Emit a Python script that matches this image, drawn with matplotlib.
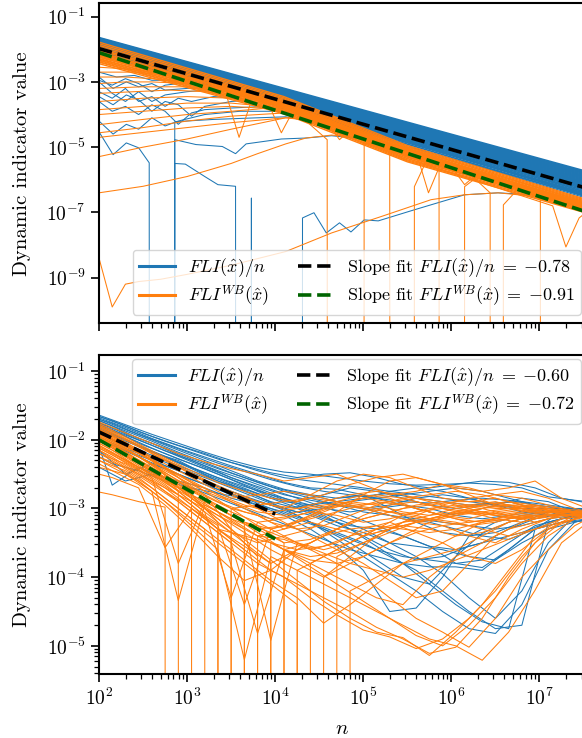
import numpy as np
import matplotlib.pyplot as plt
from matplotlib.lines import Line2D
from matplotlib.ticker import NullLocator

plt.rcParams['font.family'] = 'serif'
plt.rcParams['font.serif'] = ['cmr10']
plt.rcParams['mathtext.fontset'] = 'cm'
plt.rcParams['axes.formatter.use_mathtext'] = True

# ---------------- data (log10 values) ----------------
# top panel: regular orbits, straight bands from n=1e2 to n=2^25
top_band_n = [2.0, 7.53]
top_blue_band_start = [-1.64, -1.66, -1.68, -1.70, -1.72, -1.74, -1.76, -1.78, -1.80, -1.82, -1.84, -1.86,
                       -1.88, -1.90, -1.92, -1.94, -1.96, -1.98, -2.00, -2.02, -2.04, -2.07, -2.10, -2.13]
top_blue_band_end = [-5.74, -5.77, -5.80, -5.83, -5.86, -5.89, -5.92, -5.95, -5.98, -6.01, -6.04, -6.07,
                     -6.10, -6.13, -6.16, -6.19, -6.22, -6.26, -6.30, -6.34, -6.38, -6.42, -6.47, -6.52]

top_orange_band_n = [2.0, 4.1, 5.5, 7.53]
top_orange_band_0 = [-1.78, -1.83, -1.88, -1.93, -1.98, -2.03, -2.08, -2.13, -2.18, -2.23, -2.28, -2.33, -2.38, -2.44]
top_orange_band_1 = [-3.45, -3.49, -3.53, -3.57, -3.61, -3.65, -3.69, -3.73, -3.77, -3.81, -3.85, -3.89, -3.93, -3.98]
top_orange_band_2 = [-4.95, -4.99, -5.03, -5.07, -5.11, -5.15, -5.19, -5.23, -5.27, -5.31, -5.35, -5.39, -5.42, -5.45]
top_orange_band_3 = [-6.60, -6.63, -6.66, -6.69, -6.72, -6.75, -6.78, -6.81, -6.84, -6.87, -6.90, -6.94, -6.98, -7.02]

# top panel: individual traces as (log10 n, log10 value), None = value 0
top_blue_lines = [
    [(2.0, -4.53), (2.16, -5.23), (2.31, -4.87), (2.45, -5.02), (2.57, -5.48), (2.71, None), (2.86, -4.22),
     (3.3, -4.15), (3.8, -4.1), (4.12, -4.07), (4.6, -4.3), (5.0, -4.55), (6.0, -5.35), (7.53, -6.56)],
    [(2.71, None), (2.86, -4.77), (3.1, -4.92), (3.4, -4.98), (3.55, -5.2), (3.67, -4.9), (4.07, -4.75),
     (4.35, -4.72), (4.64, -4.65), (4.9, -4.72), (5.2, -4.85), (5.6, -5.05), (6.0, -5.35), (7.53, -6.5)],
    [(2.71, None), (2.86, -5.5), (2.98, -5.52), (3.2, -5.9), (3.35, -6.15), (3.55, -6.2), (3.65, None)],
    [(3.58, None), (3.73, -6.56), (3.88, None)],
    [(4.16, None), (4.31, -7.17), (4.44, -7.01), (4.58, -7.63), (4.73, -7.32), (4.86, -7.6), (5.01, -7.23),
     (5.17, -7.26), (5.58, -6.92), (6.15, -6.46), (6.53, -6.4), (6.91, -6.46), (7.28, -6.7), (7.53, -6.85)],
    [(2.0, -2.95), (2.15, -3.1), (2.3, -2.9), (2.45, -3.05), (2.6, -3.3), (2.75, -3.1), (2.9, -3.05),
     (3.2, -3.0), (3.5, -3.0), (3.8, -3.1), (4.1, -3.3), (4.5, -3.6), (7.53, -6.2)],
    [(2.0, -3.3), (2.15, -3.5), (2.3, -3.2), (2.45, -3.6), (2.6, -3.45), (2.75, -3.75), (2.9, -3.5),
     (3.05, -3.6), (3.3, -3.45), (3.6, -3.5), (4.0, -3.6), (4.5, -3.9), (5.0, -4.4), (7.53, -6.45)],
    [(2.0, -3.6), (2.15, -3.9), (2.3, -3.75), (2.45, -4.0), (2.6, -3.7), (2.75, -3.9), (2.9, -4.3),
     (3.05, -3.95), (3.2, -3.85), (3.5, -3.8), (3.9, -3.75), (4.3, -3.9), (4.8, -4.25), (7.53, -6.5)],
    [(2.0, -3.0), (2.15, -3.35), (2.3, -3.6), (2.45, -3.3), (2.6, -3.6), (2.75, -3.4), (3.0, -3.3),
     (3.4, -3.2), (3.8, -3.3), (4.3, -3.55), (7.53, -6.3)],
    [(2.0, -2.7), (2.2, -2.85), (2.4, -2.8), (2.6, -2.95), (2.9, -2.95), (3.3, -3.0), (3.7, -3.15), (7.53, -6.1)],
    [(2.0, -4.2), (2.16, -4.6), (2.31, -4.3), (2.45, -4.45), (2.6, -4.1), (2.75, -4.35), (2.9, -4.2),
     (3.2, -4.0), (3.6, -3.9), (4.1, -3.9), (4.6, -4.1), (5.2, -4.6), (7.53, -6.45)],
    [(2.0, -3.45), (2.16, -3.7), (2.31, -3.4), (2.45, -3.55), (2.6, -3.9), (2.75, -3.6), (2.9, -3.7),
     (3.05, -4.05), (3.2, -3.75), (3.5, -3.6), (4.0, -3.5), (4.6, -3.8), (7.53, -6.4)],
    [(2.0, -2.85), (2.16, -3.2), (2.31, -3.0), (2.45, -3.15), (2.6, -3.05), (2.75, -3.25), (3.0, -3.2),
     (3.5, -3.15), (4.0, -3.3), (7.53, -6.25)],
]

top_orange_lines = [
    [(2.0, -2.55), (2.3, -2.6), (2.6, -2.7), (2.9, -2.8), (3.2, -2.95), (3.6, -3.25), (4.1, -3.7), (5.5, -5.2), (7.53, -6.85)],
    [(2.0, -2.85), (2.3, -2.85), (2.6, -2.9), (2.9, -3.0), (3.3, -3.15), (3.7, -3.4), (4.1, -3.75), (5.5, -5.25), (7.53, -6.9)],
    [(2.0, -3.05), (2.3, -3.0), (2.6, -3.0), (3.0, -3.05), (3.4, -3.2), (3.8, -3.45), (4.1, -3.65), (5.5, -5.1), (7.53, -6.75)],
    [(2.0, -3.35), (2.4, -3.3), (2.8, -3.25), (3.2, -3.3), (3.6, -3.45), (4.1, -3.7), (5.5, -5.15), (7.53, -6.8)],
    [(2.0, -3.6), (2.5, -3.5), (3.0, -3.45), (3.5, -3.5), (4.1, -3.75), (5.5, -5.2), (7.53, -6.85)],
    [(2.0, -3.85), (2.5, -3.75), (3.0, -3.65), (3.5, -3.65), (4.12, -3.8), (4.6, -4.1), (5.5, -5.0), (7.53, -6.7)],
    [(2.0, -4.31), (2.5, -4.15), (3.0, -4.0), (3.5, -3.9), (4.12, -3.76), (4.6, -4.0), (5.0, -4.5), (5.5, -5.05), (7.53, -6.8)],
    [(2.0, -4.56), (2.5, -4.4), (3.0, -4.2), (3.5, -4.05), (4.12, -3.95), (4.6, -4.15), (5.0, -4.6), (5.5, -5.1), (7.53, -6.78)],
    [(2.0, -5.29), (2.5, -5.0), (3.0, -4.75), (3.5, -4.45), (4.12, -4.1), (4.5, -4.15), (5.0, -4.55), (5.5, -5.15), (7.53, -6.82)],
    [(2.0, -6.4), (2.5, -6.2), (3.0, -5.9), (3.5, -5.5), (3.8, -5.2), (4.12, -4.9), (4.35, -4.72), (4.64, -4.63),
     (4.9, -4.68), (5.1, -4.78), (5.4, -4.98), (5.6, -5.12), (6.2, -5.65), (7.53, -6.8)],
    [(2.0, -8.4), (2.15, -9.9), (2.3, -9.2), (2.45, -9.12), (2.7, -9.05), (3.0, -8.9), (3.5, -8.62), (4.12, -8.2),
     (4.64, -7.63), (5.2, -7.13), (5.77, -6.61), (6.15, -6.46), (6.53, -6.4), (6.91, -6.5), (7.28, -6.8), (7.53, -6.98)],
    [(2.0, -2.7), (2.4, -2.7), (2.8, -2.8), (3.2, -3.0), (3.7, -3.35), (4.1, -3.68), (5.5, -5.15), (7.53, -6.8)],
    [(2.0, -3.2), (2.5, -3.15), (3.0, -3.15), (3.5, -3.3), (4.1, -3.72), (5.5, -5.2), (7.53, -6.85)],
    [(2.0, -4.0), (2.5, -3.9), (3.0, -3.8), (3.5, -3.75), (4.12, -3.85), (4.6, -4.15), (5.5, -5.1), (7.53, -6.75)],
    [(2.0, -4.7), (2.5, -4.55), (3.0, -4.4), (3.5, -4.25), (4.12, -4.1), (4.6, -4.25), (5.2, -4.8), (7.53, -6.8)],
    [(2.0, -2.3), (3.0, -3.0), (3.44, -3.35), (3.59, -4.7), (3.74, -3.5), (4.1, -3.8), (5.5, -5.3), (7.53, -6.95)],
    [(2.0, -2.2), (3.5, -3.3), (3.92, -3.65), (4.07, -4.56), (4.22, -3.8), (5.5, -5.2), (7.53, -6.9)],
    [(2.0, -2.15), (4.1, -3.65), (4.58, -4.2), (4.73, -4.77), (4.88, -4.4), (5.5, -5.2), (7.53, -6.85)],
    [(2.0, -2.0), (4.1, -3.6), (4.59, -4.77), (4.8, None), (5.01, -4.86), (5.5, -5.25), (7.53, -6.9)],
    [(2.0, -2.1), (4.1, -3.7), (5.0, -4.6), (5.3, -5.08), (5.44, None), (5.58, -6.21), (5.72, -5.4), (6.0, -5.6), (7.53, -6.85)],
    [(2.0, -2.2), (4.1, -3.8), (5.5, -5.2), (5.86, -5.69), (6.0, None), (6.15, -6.21), (6.3, -5.9), (7.53, -6.9)],
    [(2.0, -2.3), (4.1, -3.85), (5.5, -5.25), (6.2, -5.8), (6.44, -6.4), (6.52, None), (6.59, -6.77), (6.75, -6.3), (7.53, -6.95)],
    [(2.0, -2.35), (4.1, -3.9), (5.5, -5.3), (6.8, -6.3), (7.01, -6.46), (7.1, None)],
    [(2.0, -2.4), (4.1, -3.95), (5.5, -5.35), (7.15, -6.8), (7.3, -8.06), (7.45, -7.17), (7.53, -7.0)],
    [(2.0, -2.25), (4.1, -3.75), (5.2, -4.9), (5.47, -5.39), (5.6, -5.15), (5.74, -6.4), (5.85, -5.69),
     (6.0, -5.6), (6.15, -6.15), (6.3, -5.8), (7.53, -6.9)],
]

# slope fits (endpoints)
top_fit_n = [1e2, 3.36e7]
top_fit_fli = [1.05e-2, 5.6e-7]
top_fit_wb = [7.9e-3, 1.05e-7]
bot_fit_n = [1e2, 1e4]
bot_fit_fli = [1.3e-2, 8.3e-4]
bot_fit_wb = [1.0e-2, 3.6e-4]

# bottom panel: traces on two sampling grids (log10 n), None = value 0
bot_grid_a = [2.0, 2.3, 2.6, 2.9, 3.2, 3.5, 3.8, 4.1, 4.4, 4.7, 5.0, 5.3, 5.6, 5.9, 6.2, 6.5, 6.8, 7.1, 7.4, 7.55]
bot_grid_b = [2.0, 2.15, 2.45, 2.75, 3.05, 3.35, 3.65, 3.95, 4.25, 4.55, 4.85, 5.15, 5.45, 5.75, 6.05, 6.35, 6.65, 6.95, 7.25, 7.55]

bot_blue_a = [
    [-1.64, -1.78, -1.92, -2.05, -2.18, -2.3, -2.4, -2.47, -2.5, -2.55, -2.6, -2.64, -2.66, -2.65, -2.63, -2.65, -2.7, -2.83, -2.88, -2.9],
    [-1.7, -1.85, -2.0, -2.15, -2.3, -2.45, -2.6, -2.72, -2.8, -2.85, -2.82, -2.78, -2.85, -2.9, -2.95, -2.92, -2.9, -2.95, -3.0, -3.05],
    [-1.75, -1.9, -2.05, -2.22, -2.38, -2.55, -2.7, -2.85, -3.0, -3.15, -3.3, -3.5, -3.7, -3.95, -4.3, -4.6, -4.2, -3.5, -3.1, -3.05],
    [-1.8, -1.95, -2.12, -2.28, -2.42, -2.58, -2.75, -2.9, -2.95, -2.9, -2.85, -2.75, -2.7, -2.75, -2.85, -2.95, -3.0, -3.1, -3.1, -3.1],
    [-1.85, -2.0, -2.18, -2.3, -2.5, -2.65, -2.82, -3.0, -3.2, -3.45, -3.7, -3.95, -4.2, -4.5, -4.75, -4.82, -4.4, -3.6, -3.2, -3.15],
    [-1.9, -2.1, -2.25, -2.4, -2.55, -2.7, -2.85, -3.0, -3.1, -3.25, -3.35, -3.5, -3.55, -3.6, -3.7, -3.75, -3.5, -3.3, -3.2, -3.15],
    [-2.0, -2.15, -2.3, -2.45, -2.6, -2.75, -2.9, -3.0, -2.95, -2.85, -2.8, -2.9, -3.0, -3.1, -3.05, -2.95, -2.85, -2.9, -3.05, -3.1],
    [-2.15, -2.5, -2.35, -2.5, -2.65, -2.8, -2.95, -3.1, -3.3, -3.55, -3.9, -4.5, -4.45, -4.0, -3.4, -3.2, -3.1, -3.05, -3.05, -3.1],
    [-1.68, -1.82, -1.98, -2.12, -2.25, -2.38, -2.5, -2.62, -2.7, -2.72, -2.8, -3.0, -3.2, -3.35, -3.4, -3.35, -3.2, -3.05, -3.0, -3.0],
    [-2.4, -2.6, -2.5, -2.6, -2.7, -2.85, -2.95, -3.05, -3.2, -3.35, -3.5, -3.7, -3.9, -4.2, -4.5, -4.75, -4.7, -3.2, -3.1, -3.1],
    [-1.66, -1.8, -1.95, -2.08, -2.2, -2.33, -2.45, -2.55, -2.6, -2.65, -2.7, -2.75, -2.8, -2.85, -2.9, -2.95, -3.0, -3.0, -3.0, -3.02],
    [-1.72, -1.87, -2.02, -2.18, -2.33, -2.48, -2.62, -2.75, -2.85, -2.95, -3.05, -3.1, -3.15, -3.2, -3.25, -3.3, -3.25, -3.15, -3.1, -3.08],
    [-1.78, -1.93, -2.08, -2.24, -2.4, -2.55, -2.68, -2.8, -2.88, -2.95, -3.0, -2.95, -2.85, -2.8, -2.85, -2.95, -3.05, -3.1, -3.05, -3.05],
    [-1.86, -2.02, -2.17, -2.33, -2.48, -2.63, -2.78, -2.92, -3.05, -3.2, -3.4, -3.6, -3.75, -3.7, -3.55, -3.45, -3.35, -3.2, -3.1, -3.1],
]
bot_blue_b = [
    [-1.66, -1.72, -1.88, -2.02, -2.15, -2.28, -2.38, -2.48, -2.55, -2.5, -2.48, -2.55, -2.65, -2.7, -2.65, -2.6, -2.62, -2.7, -2.85, -2.92],
    [-1.72, -1.8, -1.98, -2.12, -2.28, -2.42, -2.55, -2.68, -2.78, -2.85, -2.95, -3.05, -3.15, -3.2, -3.3, -3.4, -3.45, -3.3, -3.15, -3.1],
    [-1.78, -1.85, -2.05, -2.2, -2.35, -2.5, -2.65, -2.8, -2.95, -3.1, -3.3, -3.55, -3.8, -4.1, -4.4, -4.65, -4.75, -3.3, -3.05, -3.0],
    [-1.82, -1.9, -2.1, -2.25, -2.42, -2.6, -2.72, -2.85, -2.9, -2.8, -2.7, -2.75, -2.85, -2.95, -3.0, -2.95, -2.9, -3.0, -3.1, -3.1],
    [-1.95, -2.05, -2.2, -2.38, -2.52, -2.68, -2.82, -2.95, -3.1, -3.3, -3.5, -3.75, -4.0, -4.1, -3.7, -3.36, -3.2, -3.1, -3.1, -3.12],
    [-2.1, -2.66, -2.4, -2.55, -2.7, -2.85, -3.0, -3.15, -3.3, -3.45, -3.6, -3.7, -3.8, -3.85, -3.85, -3.9, -3.6, -3.3, -3.2, -3.18],
    [-2.25, -2.35, -2.45, -2.6, -2.7, -2.78, -2.85, -2.95, -3.05, -3.0, -2.9, -2.85, -2.8, -2.75, -2.7, -2.75, -2.85, -2.95, -3.0, -3.05],
    [-1.9, -2.0, -2.15, -2.3, -2.45, -2.6, -2.75, -2.9, -3.0, -3.15, -3.25, -3.3, -3.4, -3.55, -3.8, -3.86, -3.6, -3.3, -3.2, -3.15],
    [-1.7, -1.76, -1.92, -2.06, -2.2, -2.34, -2.46, -2.58, -2.68, -2.75, -2.8, -2.85, -2.9, -2.92, -2.88, -2.85, -2.88, -2.95, -3.0, -3.02],
    [-1.76, -1.83, -2.0, -2.16, -2.3, -2.45, -2.58, -2.72, -2.85, -2.98, -3.1, -3.25, -3.4, -3.55, -3.6, -3.5, -3.3, -3.15, -3.08, -3.06],
    [-1.84, -1.91, -2.08, -2.24, -2.4, -2.55, -2.68, -2.8, -2.9, -3.0, -3.05, -3.0, -2.95, -3.0, -3.1, -3.15, -3.1, -3.05, -3.05, -3.05],
    [-2.0, -2.08, -2.25, -2.42, -2.58, -2.72, -2.85, -3.0, -3.15, -3.3, -3.45, -3.6, -3.7, -3.75, -3.8, -3.75, -3.5, -3.25, -3.15, -3.12],
]
bot_orange_a = [
    [-1.74, -1.9, -2.05, -2.2, -2.32, -2.42, -2.5, -2.6, -2.55, -2.5, -2.65, -2.8, -2.75, -2.65, -2.7, -2.8, -2.75, -2.85, -3.0, -3.05],
    [-1.8, -2.0, -2.2, -2.4, -2.6, -2.8, -3.0, -3.2, -3.4, -3.6, -3.8, -4.05, -4.3, -4.2, -3.8, -3.4, -3.2, -3.1, -3.1, -3.1],
    [-1.85, -2.05, -2.3, -2.75, None, -3.0, -3.1, -3.3, -3.1, -2.9, -2.8, -2.85, -3.0, -3.1, -3.15, -3.05, -3.0, -3.05, -3.1, -3.1],
    [-1.9, -2.1, -2.3, -2.55, -2.8, -3.3, None, -3.6, -3.5, -3.3, -3.1, -2.95, -2.9, -3.0, -2.95, -2.9, -3.0, -3.1, -3.1, -3.08],
    [-1.95, -2.15, -2.35, -2.6, -2.85, -3.1, -3.35, -3.6, -3.85, -4.1, -4.35, -4.6, -4.85, -5.0, -4.7, -4.3, -3.8, -3.4, -3.15, -3.1],
    [-2.0, -2.2, -2.45, -2.7, -3.0, -3.3, -3.7, None, -3.8, -3.6, -3.4, -3.3, -3.2, -3.25, -3.4, -3.5, -3.3, -3.15, -3.1, -3.1],
    [-2.05, -2.25, -2.5, -2.75, -3.05, -4.3, -3.2, -3.4, -3.6, -3.8, -4.0, -4.3, -4.6, -4.8, -5.02, -4.6, -4.0, -3.6, -3.25, -3.15],
    [-2.1, -2.3, -2.55, -2.8, -3.1, -3.35, -3.5, -3.4, -3.3, -3.05, -2.8, -2.6, -2.55, -2.65, -2.8, -2.95, -3.0, -3.05, -3.1, -3.1],
    [-2.2, -2.35, -2.6, -2.9, -3.2, -3.5, -3.8, -4.0, -4.3, -4.55, -4.77, -4.87, -5.04, -4.9, -4.6, -4.2, -3.7, -3.3, -3.1, -3.1],
    [-2.3, -2.45, -2.7, -3.0, -3.3, None, -3.4, -3.45, -3.6, -3.5, -3.3, -3.2, -3.35, -3.5, -3.7, -3.8, -3.6, -3.3, -3.15, -3.1],
    [-1.78, -1.98, -2.18, -2.38, -2.58, -2.75, -2.9, -3.0, -2.8, -2.6, -2.5, -2.55, -2.7, -2.85, -2.9, -2.85, -2.95, -3.0, -3.05, -3.05],
    [-2.4, -2.5, -2.75, -4.34, -2.95, -3.15, -3.4, -3.6, -3.75, -3.8, -3.7, -3.5, -3.35, -3.25, -3.2, -3.15, -3.1, -3.1, -3.1, -3.1],
    [-1.88, -2.08, -2.3, -2.5, -2.75, -3.0, -3.25, -3.5, None, -3.7, -3.5, -3.3, -3.1, -2.95, -2.85, -2.8, -2.85, -2.95, -3.05, -3.08],
    [-2.15, -2.4, -2.65, -2.9, -3.2, -3.5, -4.82, -3.6, -3.7, -3.65, -3.5, -3.35, -3.2, -3.1, -3.05, -3.1, -3.15, -3.1, -3.1, -3.1],
    [-1.92, -2.12, -2.35, -2.55, -2.75, -2.9, -3.05, -3.1, -3.0, -2.95, -3.0, -3.05, -2.95, -2.9, -3.0, -3.1, -3.05, -3.0, -3.05, -3.08],
    [-2.02, -2.22, -2.45, -2.65, -2.85, -3.05, -3.2, -3.15, -3.05, -3.1, -3.2, -3.15, -3.05, -3.0, -3.05, -3.15, -3.2, -3.1, -3.1, -3.1],
    [-2.08, -2.3, -2.5, -2.7, -2.95, -3.15, -3.3, -3.25, -3.1, -2.95, -2.85, -2.9, -3.0, -3.1, -3.2, -3.15, -3.05, -3.0, -3.05, -3.07],
    [-1.96, -2.18, -2.4, -2.62, -2.82, -3.0, -2.95, -2.9, -2.85, -2.9, -3.0, -3.1, -3.2, -3.15, -3.05, -2.95, -2.95, -3.0, -3.05, -3.06],
    [-2.25, -2.4, -2.6, -2.8, -3.0, -3.2, -3.4, -3.3, -3.2, -3.3, -3.4, -3.3, -3.2, -3.1, -3.05, -3.1, -3.15, -3.1, -3.1, -3.1],
    [-1.84, -2.04, -2.25, -2.45, -2.65, -2.85, -2.8, -2.75, -2.8, -2.9, -2.95, -2.9, -2.85, -2.9, -2.95, -3.0, -3.0, -3.05, -3.05, -3.05],
    [-2.12, -2.32, -2.55, -3.8, -2.9, -3.1, -3.3, -3.5, -3.45, -3.3, -3.15, -3.05, -3.1, -3.2, -3.25, -3.2, -3.1, -3.05, -3.1, -3.1],
]
bot_orange_b = [
    [-1.76, -1.86, -2.06, -2.26, -2.45, -2.62, -2.75, -2.85, -2.9, -2.8, -2.65, -2.55, -2.5, -2.6, -2.7, -2.75, -2.7, -2.6, -2.85, -3.0],
    [-2.76, -2.8, -2.9, -2.98, None, -3.3, -3.4, -3.5, -3.7, -3.9, -4.1, -4.3, -4.4, -4.0, -3.7, -3.5, -3.3, -3.2, -3.1, -3.1],
    [-1.82, -1.92, -2.15, -2.4, -2.7, None, -3.2, -3.35, -3.5, -3.6, -3.5, -3.3, -3.1, -3.0, -2.95, -3.0, -3.1, -3.2, -3.1, -3.08],
    [-1.9, -2.0, -2.25, -2.5, -2.8, -3.2, None, -3.5, -3.6, -3.55, -3.4, -3.3, -3.25, -3.3, -3.4, -3.35, -3.2, -3.1, -3.1, -3.1],
    [-1.98, -2.08, -2.3, -2.55, -2.85, -3.15, -3.45, -3.75, -4.05, -4.35, -4.6, -4.8, -4.88, -5.14, -4.8, -4.4, -3.9, -3.4, -3.15, -3.1],
    [-2.05, -2.15, -2.4, -2.65, -2.95, -3.3, -3.6, None, -3.9, -3.7, -3.5, -3.3, -3.2, -3.15, -3.2, -3.3, -3.4, -3.3, -3.15, -3.1],
    [-2.12, -2.22, -2.45, -2.7, -3.0, -3.3, -3.55, -3.8, None, -4.0, -3.8, -3.6, -3.4, -3.2, -3.05, -2.95, -2.9, -2.95, -3.05, -3.1],
    [-2.2, -2.3, -2.55, -2.85, -3.15, -3.45, -3.75, -4.05, -4.3, -4.67, -4.4, -4.1, -3.8, -3.6, -3.4, -3.2, -3.1, -3.05, -3.05, -3.08],
    [-2.3, -2.4, -2.6, -2.9, -3.2, -3.5, -3.8, -4.1, -4.4, None, -4.2, -4.0, -3.8, -3.7, -3.6, -3.4, -3.2, -3.1, -3.1, -3.1],
    [-2.5, -2.55, -2.7, -3.57, -3.0, -3.3, -3.6, -3.9, -4.1, -4.3, -4.5, -4.73, -4.9, -5.11, -5.02, -4.6, -4.0, -3.5, -3.2, -3.12],
    [-1.86, -1.96, -2.18, -2.4, -2.6, -2.8, -3.0, -3.2, -3.3, -3.25, -3.1, -2.95, -2.85, -2.8, -2.75, -2.8, -2.9, -3.0, -3.05, -3.05],
    [-2.0, -2.1, -2.35, -2.6, -2.9, -3.2, -3.5, -3.8, -3.6, -3.4, -3.2, -3.1, -3.0, -2.95, -2.9, -2.9, -2.95, -3.0, -3.05, -3.1],
    [-1.95, -2.05, -2.3, -2.55, -2.8, -3.05, -3.3, -4.92, -3.5, -3.65, -3.8, -3.9, -4.0, -3.9, -3.75, -3.6, -3.45, -3.3, -3.2, -3.1],
    [-2.25, -2.35, -2.6, -2.9, -3.25, -3.6, -5.2, -3.7, -3.9, -4.1, -4.3, -4.5, -4.7, -4.9, -5.0, -5.21, -4.8, -4.19, -3.5, -3.2],
    [-1.8, -1.9, -2.1, -2.3, -2.5, -2.7, -2.85, -2.95, -3.0, -2.95, -2.9, -2.95, -3.05, -3.1, -3.05, -3.0, -2.95, -3.0, -3.05, -3.06],
    [-1.93, -2.03, -2.25, -2.48, -2.7, -2.9, -3.05, -3.15, -3.1, -3.0, -2.95, -3.0, -3.1, -3.15, -3.1, -3.05, -3.1, -3.15, -3.1, -3.08],
    [-2.02, -2.12, -2.35, -2.58, -2.8, -3.0, -3.2, -3.3, -3.2, -3.05, -2.9, -2.8, -2.85, -2.95, -3.05, -3.1, -3.05, -3.0, -3.05, -3.07],
    [-2.15, -2.25, -2.5, -2.75, -3.0, -3.25, -4.4, -3.3, -3.2, -3.1, -3.0, -2.9, -2.95, -3.05, -3.15, -3.2, -3.15, -3.1, -3.1, -3.1],
    [-1.88, -1.98, -2.2, -2.42, -2.62, -2.8, -2.95, -3.05, -3.0, -2.9, -2.8, -2.75, -2.8, -2.9, -3.0, -3.05, -3.0, -2.95, -3.0, -3.05],
    [-2.35, -2.45, -2.65, -2.95, -3.3, -3.7, -4.05, -3.9, -3.6, -3.4, -3.3, -3.25, -3.3, -3.35, -3.3, -3.2, -3.15, -3.1, -3.1, -3.1],
    [-2.08, -2.18, -2.4, -2.62, -2.85, -3.1, -3.35, -3.6, -3.8, -4.0, -3.7, -3.4, -3.2, -3.1, -3.0, -2.95, -3.0, -3.05, -3.1, -3.1],
]

legend_labels = [r'$FLI(\hat{x})/n$', r'$FLI^{WB}(\hat{x})$']
top_fit_labels = [r'Slope fit $FLI(\hat{x})/n\;=\;{-0.78}$', r'Slope fit $FLI^{WB}(\hat{x})\;=\;{-0.91}$']
bot_fit_labels = [r'Slope fit $FLI(\hat{x})/n\;=\;{-0.60}$', r'Slope fit $FLI^{WB}(\hat{x})\;=\;{-0.72}$']

blue = '#1f77b4'
orange = '#ff7f0e'
LW = 0.75


def to_lin(v):
    return 0.0 if v is None else 10.0 ** v


def draw_knots(ax, pts, color, lw=LW):
    ax.plot([10.0 ** p[0] for p in pts], [to_lin(p[1]) for p in pts], color=color, lw=lw)


def draw_grid(ax, grid, vals, color):
    ax.plot([10.0 ** g for g in grid], [to_lin(v) for v in vals], color=color, lw=LW)


W, H = 582, 738
fig = plt.figure(figsize=(W / 100, H / 100), dpi=100)
x_right = 585.8
ax1 = fig.add_axes([99 / W, 1 - 323.3 / H, (x_right - 99) / W, 320 / H])
ax2 = fig.add_axes([99 / W, 1 - 674 / H, (x_right - 99) / W, 319 / H])

for ax in (ax1, ax2):
    ax.set_xscale('log')
    ax.set_yscale('log')

# ---- top panel ----
for s, e in zip(top_blue_band_start, top_blue_band_end):
    draw_knots(ax1, [(top_band_n[0], s), (top_band_n[1], e)], blue, lw=1.2)
for pts in top_blue_lines:
    draw_knots(ax1, pts, blue)
for vals in zip(top_orange_band_0, top_orange_band_1, top_orange_band_2, top_orange_band_3):
    draw_knots(ax1, list(zip(top_orange_band_n, vals)), orange, lw=1.0)
for pts in top_orange_lines:
    draw_knots(ax1, pts, orange)
ax1.plot(top_fit_n, top_fit_fli, color='k', ls='--', lw=2.6)
ax1.plot(top_fit_n, top_fit_wb, color='darkgreen', ls='--', lw=2.6)

# ---- bottom panel ----
for vals in bot_blue_a:
    draw_grid(ax2, bot_grid_a, vals, blue)
for vals in bot_blue_b:
    draw_grid(ax2, bot_grid_b, vals, blue)
for vals in bot_orange_a:
    draw_grid(ax2, bot_grid_a, vals, orange)
for vals in bot_orange_b:
    draw_grid(ax2, bot_grid_b, vals, orange)
ax2.plot(bot_fit_n, bot_fit_fli, color='k', ls='--', lw=2.6)
ax2.plot(bot_fit_n, bot_fit_wb, color='darkgreen', ls='--', lw=2.6)

# ---- axes cosmetics ----
ax1.set_xlim(1e2, 2 ** 25)
ax2.set_xlim(1e2, 2 ** 25)
ax1.set_ylim(10 ** -10.4, 10 ** -0.59)
ax2.set_ylim(10 ** -5.41, 10 ** -0.765)
ax1.set_yticks([1e-1, 1e-3, 1e-5, 1e-7, 1e-9])
ax1.yaxis.set_minor_locator(NullLocator())
ax1.tick_params(axis='x', which='both', labelbottom=False)

for ax in (ax1, ax2):
    ax.tick_params(which='major', length=6, width=1.2, labelsize=14)
    ax.tick_params(which='minor', length=3.5, width=0.9)
    for sp in ax.spines.values():
        sp.set_linewidth(1.5)
    ax.set_ylabel('Dynamic indicator value', fontsize=15, labelpad=11)

ax2.set_xlabel('$n$', fontsize=15, labelpad=8)


def make_legend(ax, fit_labels, loc, anchor):
    handles = [Line2D([], [], color=blue, lw=2.2), Line2D([], [], color=orange, lw=2.2),
               Line2D([], [], color='k', ls='--', lw=2.6), Line2D([], [], color='darkgreen', ls='--', lw=2.6)]
    ax.legend(handles, legend_labels + fit_labels, ncol=2, loc=loc, fontsize=13,
              labelspacing=0.25, borderpad=0.35, handlelength=2.0, handletextpad=0.7,
              columnspacing=1.6, bbox_to_anchor=anchor, bbox_transform=fig.transFigure,
              borderaxespad=0)


make_legend(ax1, top_fit_labels, 'lower right', (581 / W, 1 - 315 / H))
make_legend(ax2, bot_fit_labels, 'upper right', (581 / W, 1 - 359 / H))

fig.savefig('out.png', dpi=100)
